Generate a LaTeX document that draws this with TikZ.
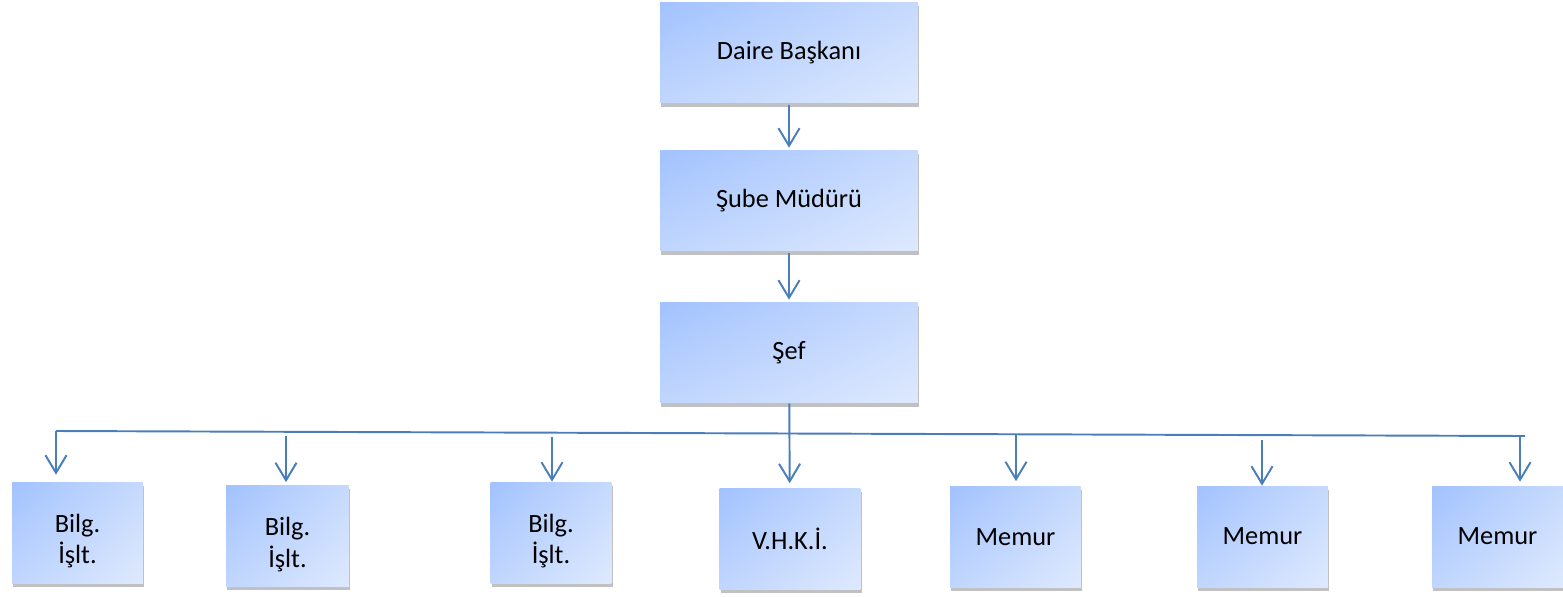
\documentclass[tikz,border=0pt]{standalone}
\usepackage{fontspec}
\setmainfont{Carlito}
\usetikzlibrary{arrows.meta,positioning,calc,shadows,shadings}
\definecolor{boxdark}{HTML}{A2C2FE}
\definecolor{boxmidA}{HTML}{C6DAFE}
\definecolor{boxmidB}{HTML}{C0D6FE}
\definecolor{boxlight}{HTML}{DEE9FE}
\definecolor{linkblue}{HTML}{4A7EBB}

\begin{document}
\begin{tikzpicture}[x=0.02cm, y=-0.02cm,
  box/.style={rectangle, upper left=boxdark, upper right=boxmidA, lower left=boxmidB, lower right=boxlight,
    drop shadow={shadow xshift=0.8pt, shadow yshift=-2pt, opacity=0.35, fill=black!70},
    inner sep=0pt, align=center, minimum height=2.02cm, font=\fontsize{15}{18}\selectfont},
  link/.style={draw=linkblue, line width=1.1pt,
    every edge/.append style={-{Straight Barb[length=10pt,width=12pt]}}},
  bus/.style={draw=linkblue, line width=1.1pt}]
  \useasboundingbox (0,0) rectangle (1563,596);

  \node (DB) [box, minimum width=5.16cm] at (789,52.5) {Daire Başkanı};
  \node (SM) [box, minimum width=5.16cm] at (789,200.5) {Şube Müdürü};
  \node (SF) [box, minimum width=5.16cm] at (789,352.5) {Şef};

  % two line boxes: strut pushes the text a bit down
  \node (B1) [box, minimum width=2.62cm] at (77.5,532.5) {\rule{0pt}{20pt}Bilg.\\İşlt.};
  \node (B2) [box, minimum width=2.46cm] at (287.5,536) {\rule{0pt}{20pt}Bilg.\\İşlt.};
  \node (B3) [box, minimum width=2.42cm] at (551,532.5) {\rule{0pt}{20pt}Bilg.\\İşlt.};
  \node (V)  [box, minimum width=2.82cm] at (790,539) {V.H.K.İ.};
  \node (M1) [box, minimum width=2.62cm] at (1015.5,537) {Memur};
  \node (M2) [box, minimum width=2.62cm] at (1262.5,536.5) {Memur};
  \node (M3) [box, minimum width=2.62cm] at (1497.5,536.5) {Memur};

  \coordinate (L) at (56,431);
  \coordinate (R) at (1525,436);
  \coordinate (a1) at (56,431);
  \coordinate (a2) at (286,436);
  \coordinate (a3) at (552,437);
  \coordinate (a5) at (1016,435);
  \coordinate (a6) at (1262,440);
  \coordinate (a7) at (1520,435);

  \draw [bus] (L) -- (R);

  \path [link]
  (DB) edge [shorten <=0.04cm, shorten >=0.04cm] (SM)
  (SM) edge [shorten <=0.04cm, shorten >=0.04cm] (SF)
  (SF) edge [shorten >=0.1cm] (V)
  (a1) edge [shorten >=0.14cm] (a1 |- B1.north)
  (a2) edge [shorten >=0.06cm] (a2 |- B2.north)
  (a3) edge (a3 |- B3.north)
  (a5) edge [shorten >=0.1cm] (a5 |- M1.north)
  (a6) edge (a6 |- M2.north)
  (a7) edge [shorten >=0.08cm] (a7 |- M3.north);
\end{tikzpicture}
\end{document}
